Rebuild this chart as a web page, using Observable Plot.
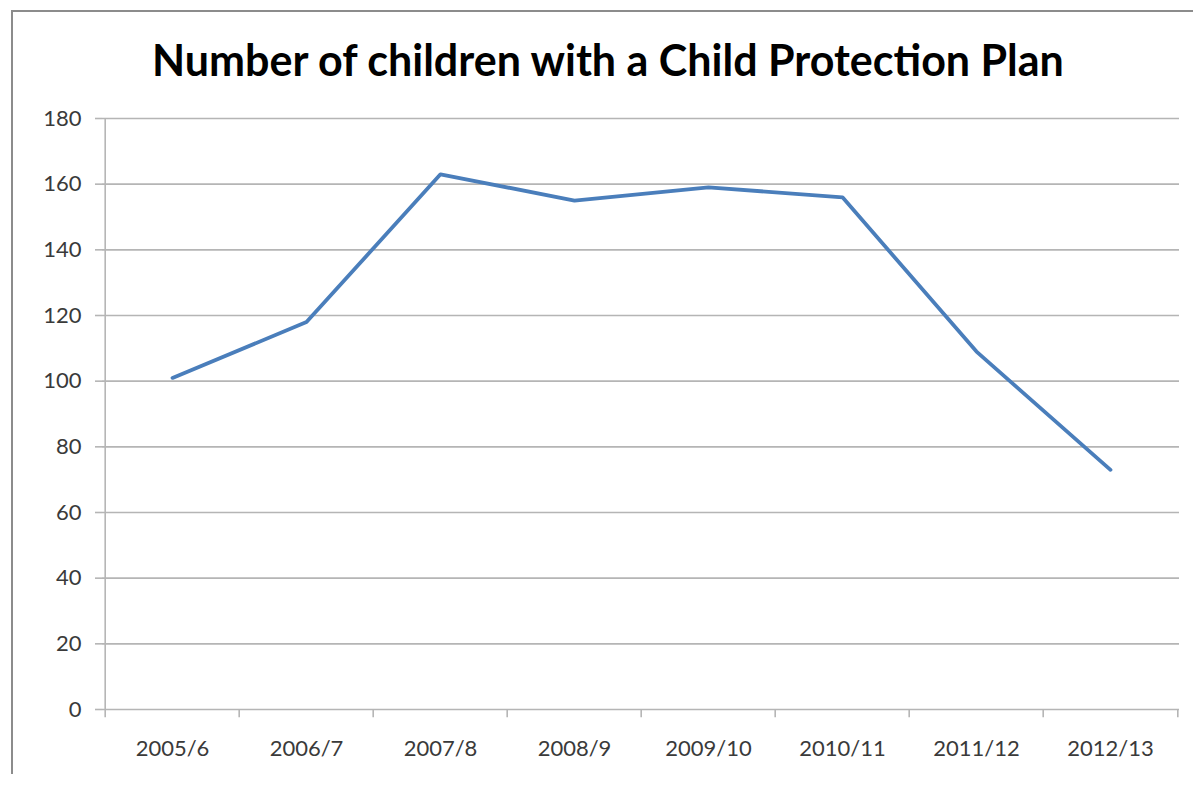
<!DOCTYPE html>
<html>
<head>
<meta charset="utf-8">
<script src="https://cdn.jsdelivr.net/npm/d3@7"></script>
<script src="https://cdn.jsdelivr.net/npm/@observablehq/plot@0.6"></script>
<style>
  html, body { margin: 0; padding: 0; background: #fff; }
  #wrap { position: relative; width: 1202px; height: 785px; overflow: hidden; }
  #frame { position: absolute; left: 11px; top: 10px; width: 1180px; height: 762px;
           border-top: 2px solid #8c8c8c; border-left: 2px solid #8c8c8c; pointer-events: none; }
  #title { height: 100px; box-sizing: border-box; padding-top: 38px; padding-left: 14px;
           text-align: center; font-family: Lato, "Open Sans", sans-serif; font-weight: 700;
           font-size: 43px; line-height: 43px; color: #000; white-space: nowrap; }
  #chart svg { display: block; }
</style>
</head>
<body>
<div id="wrap">
  <div id="frame"></div>
  <div id="title">Number of children with a Child Protection Plan</div>
  <div id="chart"></div>
</div>
<script>
const years = ["2005/6", "2006/7", "2007/8", "2008/9", "2009/10", "2010/11", "2011/12", "2012/13"];
const children = [101, 118, 163, 155, 159, 156, 109, 73];
const yTicks = [0, 20, 40, 60, 80, 100, 120, 140, 160, 180];

const data = years.map((year, i) => ({year, value: children[i]}));

const W = 1202, H = 685, ML = 102, MR = 23, MT = 18, MB = 76;
const step = (W - ML - MR) / years.length;
const gridColor = "#b5b5b5";

const chart = Plot.plot({
  width: W,
  height: H,
  marginTop: MT,
  marginBottom: MB,
  marginLeft: ML,
  marginRight: MR,
  style: {fontFamily: "Lato, 'Open Sans', sans-serif", fontSize: "22px", color: "#3a3a3a", background: "white"},
  x: {type: "band", domain: years, padding: 0, label: null},
  y: {domain: [0, 180], label: null},
  marks: [
    Plot.ruleY(yTicks, {stroke: gridColor, strokeWidth: 1.6}),
    Plot.ruleX([years[0]], {dx: -step / 2, y1: 0, y2: 180, stroke: gridColor, strokeWidth: 1.6}),
    Plot.ruleX(years, {dx: -step / 2, y1: 0, y2: -2.5, stroke: gridColor, strokeWidth: 1.6}),
    Plot.ruleX([years[years.length - 1]], {dx: step / 2, y1: 0, y2: -2.5, stroke: gridColor, strokeWidth: 1.6}),
    Plot.axisY({ticks: yTicks, tickSize: 7, tickPadding: 14, stroke: gridColor, strokeWidth: 1.6, strokeOpacity: 1, label: null}),
    Plot.axisX({tickSize: 0, tickPadding: 31, label: null}),
    Plot.line(data, {x: "year", y: "value", stroke: "#4a7ebb", strokeWidth: 3.8, strokeLinejoin: "round"})
  ]
});
document.getElementById("chart").appendChild(chart);
</script>
</body>
</html>
